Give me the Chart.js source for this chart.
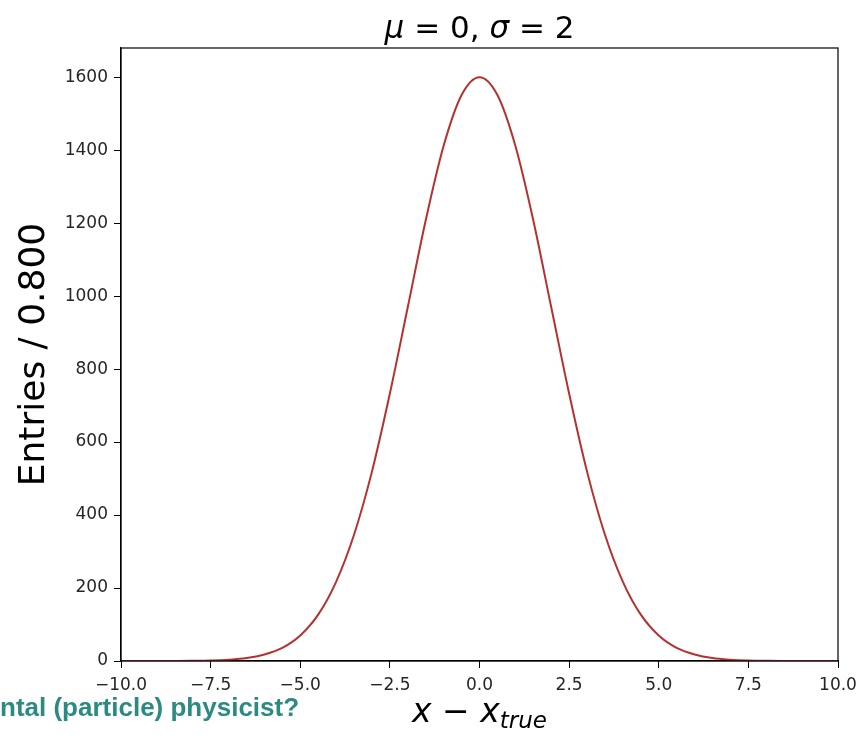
<!DOCTYPE html>
<html>
<head>
<meta charset="utf-8">
<script src="https://cdn.jsdelivr.net/npm/chart.js@4.4.1/dist/chart.umd.min.js"></script>
<style>
  html, body { margin: 0; padding: 0; background: #fff; }
  #wrap { width: 860px; height: 735px; position: relative; }
</style>
</head>
<body>
<div id="wrap"><canvas id="c"></canvas></div>
<script>
// Gaussian response curve, mu = 0, sigma = 2
const xValues = [
  -10, -9.5, -9, -8.5, -8, -7.5, -7, -6.5, -6, -5.5, -5, -4.5, -4, -3.5, -3, -2.5, -2, -1.5, -1, -0.5,
  0, 0.5, 1, 1.5, 2, 2.5, 3, 3.5, 4, 4.5, 5, 5.5, 6, 6.5, 7, 7.5, 8, 8.5, 9, 9.5, 10,
];
const entries = [
  0, 0, 0, 0, 0.5, 1.4, 3.5, 8, 18, 36, 70, 127, 217, 346, 519, 733, 970, 1208, 1412, 1551,
  1600, 1551, 1412, 1208, 970, 733, 519, 346, 217, 127, 70, 36, 18, 8, 3.5, 1.4, 0.5, 0, 0, 0, 0,
];
const xTicks = [-10, -7.5, -5, -2.5, 0, 2.5, 5, 7.5, 10];
const yTicks = [0, 200, 400, 600, 800, 1000, 1200, 1400, 1600];

const tickFont = { family: "DejaVu Sans", size: 17 };

// frame, title, axis labels and the clipped caption at lower left
const decorations = {
  id: "decorations",
  afterDraw(chart) {
    const { ctx, chartArea: a } = chart;
    ctx.save();
    ctx.strokeStyle = "#000";
    ctx.lineWidth = 1.2;
    ctx.strokeRect(a.left, a.top, a.right - a.left, a.bottom - a.top);

    const cx = (a.left + a.right) / 2;
    ctx.fillStyle = "#000";
    ctx.textBaseline = "alphabetic";

    // title: mu = 0, sigma = 2 (math italic symbols)
    const parts = [
      ["italic 31px 'DejaVu Sans'", "\u03bc"],
      ["31px 'DejaVu Sans'", " = 0, "],
      ["italic 31px 'DejaVu Sans'", "\u03c3"],
      ["31px 'DejaVu Sans'", " = 2"],
    ];
    let w = 0;
    for (const [f, t] of parts) { ctx.font = f; w += ctx.measureText(t).width; }
    let x = cx - w / 2;
    for (const [f, t] of parts) {
      ctx.font = f;
      ctx.fillText(t, x, 38);
      x += ctx.measureText(t).width;
    }

    // x label: x - x_true
    const xl = [
      ["italic 33px 'DejaVu Sans'", "x", 0],
      ["33px 'DejaVu Sans'", " \u2212 ", 0],
      ["italic 33px 'DejaVu Sans'", "x", 0],
      ["italic 23px 'DejaVu Sans'", "true", 6],
    ];
    w = 0;
    for (const [f, t] of xl) { ctx.font = f; w += ctx.measureText(t).width; }
    x = cx - w / 2;
    for (const [f, t, dy] of xl) {
      ctx.font = f;
      ctx.fillText(t, x, 722 + dy);
      x += ctx.measureText(t).width;
    }

    // y label
    ctx.save();
    ctx.translate(44, (a.top + a.bottom) / 2);
    ctx.rotate(-Math.PI / 2);
    ctx.font = "36px 'DejaVu Sans'";
    ctx.textAlign = "center";
    ctx.fillText("Entries / 0.800", 0, 0);
    ctx.restore();

    // caption fragment
    ctx.font = "bold 26px 'Liberation Sans'";
    ctx.fillStyle = "#2b8a82";
    ctx.textAlign = "left";
    ctx.fillText("ntal (particle) physicist?", 0, 716);
    ctx.restore();
  },
};

new Chart(document.getElementById("c"), {
  type: "line",
  data: {
    datasets: [{
      data: xValues.map((x, i) => ({ x, y: entries[i] })),
      borderColor: "#b5312f",
      borderWidth: 2,
      pointRadius: 0,
      fill: false,
      cubicInterpolationMode: "monotone",
    }],
  },
  options: {
    responsive: true,
    maintainAspectRatio: false,
    animation: false,
    events: [],
    layout: { padding: { top: 48, right: 22, bottom: 0, left: 0 } },
    plugins: { legend: { display: false }, tooltip: { enabled: false } },
    scales: {
      x: {
        type: "linear",
        min: -10,
        max: 10,
        afterBuildTicks: (s) => { s.ticks = xTicks.map((v) => ({ value: v })); },
        afterFit: (s) => { s.height = 74; s.paddingLeft = 0; s.paddingRight = 0; },
        ticks: {
          color: "#262626",
          font: tickFont,
          padding: 7,
          maxRotation: 0,
          callback: (v) => (v < 0 ? "\u2212" + Math.abs(v).toFixed(1) : v.toFixed(1)),
        },
        grid: { drawOnChartArea: false, drawTicks: true, tickLength: 7, tickColor: "#000" },
        border: { display: true, color: "#000", width: 1.2 },
      },
      y: {
        min: 0,
        max: 1680,
        afterBuildTicks: (s) => { s.ticks = yTicks.map((v) => ({ value: v })); },
        afterFit: (s) => { s.width = 121; s.paddingTop = 0; s.paddingBottom = 0; },
        ticks: { color: "#262626", font: tickFont, padding: 6, callback: (v) => String(v) },
        grid: { drawOnChartArea: false, drawTicks: true, tickLength: 7, tickColor: "#000" },
        border: { display: true, color: "#000", width: 1.2 },
      },
    },
  },
  plugins: [decorations],
});
</script>
</body>
</html>
